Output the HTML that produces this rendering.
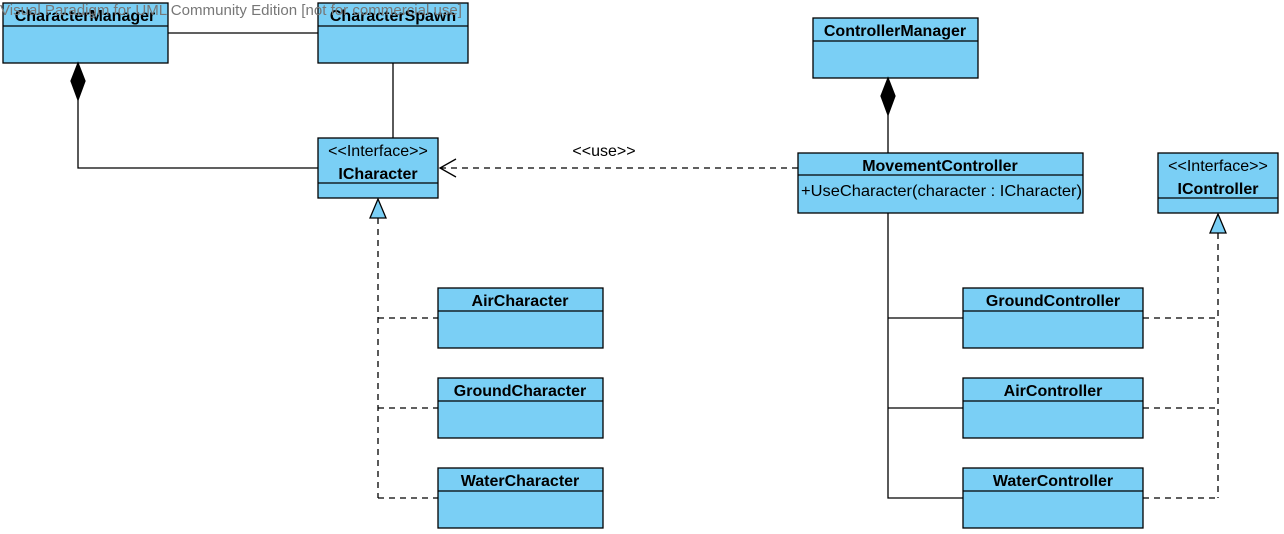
<!DOCTYPE html><html><head><style>body{margin:0;background:#fff}svg{display:block}text{font-family:"Liberation Sans",Arial,sans-serif;font-size:16px;fill:#000}.b{font-weight:bold;text-anchor:middle}.c{text-anchor:middle}</style></head><body>
<svg width="1284" height="534" viewBox="0 0 1284 534">
<g fill="#7acff5" stroke="#000" stroke-width="1.3">
<rect x="3" y="3" width="165" height="60"/><line x1="3" y1="26" x2="168" y2="26"/>
<rect x="318" y="3" width="150" height="60"/><line x1="318" y1="26" x2="468" y2="26"/>
<rect x="813" y="18" width="165" height="60"/><line x1="813" y1="41" x2="978" y2="41"/>
<rect x="318" y="138" width="120" height="60"/><line x1="318" y1="183" x2="438" y2="183"/>
<rect x="798" y="153" width="285" height="60"/><line x1="798" y1="175" x2="1083" y2="175"/>
<rect x="1158" y="153" width="120" height="60"/><line x1="1158" y1="198" x2="1278" y2="198"/>
<rect x="438" y="288" width="165" height="60"/><line x1="438" y1="311" x2="603" y2="311"/>
<rect x="438" y="378" width="165" height="60"/><line x1="438" y1="401" x2="603" y2="401"/>
<rect x="438" y="468" width="165" height="60"/><line x1="438" y1="491" x2="603" y2="491"/>
<rect x="963" y="288" width="180" height="60"/><line x1="963" y1="311" x2="1143" y2="311"/>
<rect x="963" y="378" width="180" height="60"/><line x1="963" y1="401" x2="1143" y2="401"/>
<rect x="963" y="468" width="180" height="60"/><line x1="963" y1="491" x2="1143" y2="491"/>
</g>
<g stroke="#000" stroke-width="1.3" fill="none">
<line x1="168" y1="33" x2="318" y2="33"/>
<line x1="393" y1="63" x2="393" y2="138"/>
<polyline points="78,100 78,168 318,168"/>
<polygon points="78,63 85,81 78,100 71,81" fill="#000"/>
<line x1="888" y1="115" x2="888" y2="153"/>
<polygon points="888,78 895,96 888,115 881,96" fill="#000"/>
<line x1="798" y1="168" x2="440" y2="168" stroke-dasharray="6,5"/>
<polyline points="456,159 440,168 456,177"/>
<line x1="378" y1="218" x2="378" y2="498" stroke-dasharray="6,5"/>
<line x1="378" y1="318" x2="438" y2="318" stroke-dasharray="6,5"/>
<line x1="378" y1="408" x2="438" y2="408" stroke-dasharray="6,5"/>
<line x1="378" y1="498" x2="438" y2="498" stroke-dasharray="6,5"/>
<polygon points="378,199 386,218 370,218" fill="#7acff5"/>
<polyline points="888,213 888,498 963,498"/>
<line x1="888" y1="318" x2="963" y2="318"/>
<line x1="888" y1="408" x2="963" y2="408"/>
<line x1="1218" y1="233" x2="1218" y2="498" stroke-dasharray="6,5"/>
<line x1="1143" y1="318" x2="1218" y2="318" stroke-dasharray="6,5"/>
<line x1="1143" y1="408" x2="1218" y2="408" stroke-dasharray="6,5"/>
<line x1="1143" y1="498" x2="1218" y2="498" stroke-dasharray="6,5"/>
<polygon points="1218,214 1226,233 1210,233" fill="#7acff5"/>
</g>
<text class="b" x="85" y="21">CharacterManager</text>
<text class="b" x="393" y="21">CharacterSpawn</text>
<text class="b" x="895" y="36">ControllerManager</text>
<text class="c" x="378" y="156">&lt;&lt;Interface&gt;&gt;</text>
<text class="b" x="378" y="179">ICharacter</text>
<text class="b" x="940" y="171">MovementController</text>
<text x="801" y="196" textLength="281" lengthAdjust="spacingAndGlyphs">+UseCharacter(character : ICharacter)</text>
<text class="c" x="1218" y="171">&lt;&lt;Interface&gt;&gt;</text>
<text class="b" x="1218" y="194">IController</text>
<text class="b" x="520" y="306">AirCharacter</text>
<text class="b" x="520" y="396">GroundCharacter</text>
<text class="b" x="520" y="486">WaterCharacter</text>
<text class="b" x="1053" y="306">GroundController</text>
<text class="b" x="1053" y="396">AirController</text>
<text class="b" x="1053" y="486">WaterController</text>
<text class="c" x="604" y="156">&lt;&lt;use&gt;&gt;</text>
<text x="0" y="15" textLength="462" lengthAdjust="spacingAndGlyphs" style="fill:#777;font-size:15px">Visual Paradigm for UML Community Edition [not for commercial use]</text>
</svg></body></html>
